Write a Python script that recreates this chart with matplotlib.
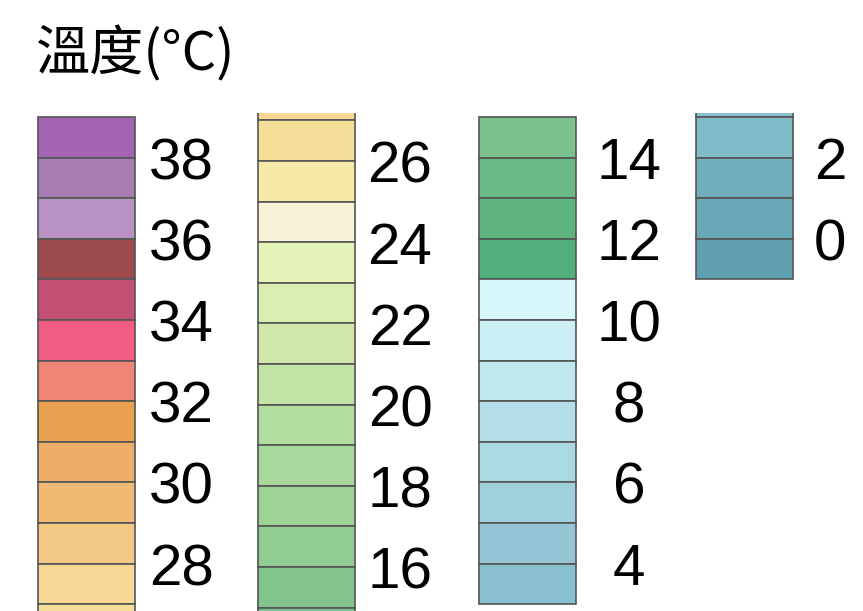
import matplotlib.pyplot as plt

# temperature bins, lower bound of each 1-degree box, from hot to cold
lows = list(range(38, -2, -1))
colors = [
    '#A464B4', '#A87EB2', '#B892C5', '#9C4A4E', '#C34F72', '#F05C86',
    '#F18575', '#E9A14F', '#EFAE68', '#F0BA75', '#F2C884', '#F6D794',
    '#F4DF98', '#F7EAA8', '#F8F3D8', '#E4F3B8', '#D9EDB0', '#D1E8AA',
    '#C3E4A6', '#B4DDA0', '#A9D89D', '#9ED396', '#90CB92', '#83C48E',
    '#7BC28E', '#6BBA85', '#5EB47F', '#52AE7A', '#D9F8FC', '#CBEFF5',
    '#BFE7EE', '#B4DFEA', '#ABD9E2', '#A0D0DC', '#96C6D5', '#88C0CF',
    '#80BBC8', '#72AFBD', '#67A7B6', '#5FA0B0',
]
title = '溫度(°C)'

# which bins each legend column holds (the legend wraps like a scrolled list)
col_bins = [(26, 38), (14, 27), (3, 14), (-1, 3)]
col_tops = [39.10, 27.18, 15.10, 3.10]   # temperature at the top edge of each column

W, H = 863, 611
box_left = [38, 258, 479, 696]
box_w = 97
label_cx = [181, 400, 629, 830]
px_per_deg = 40.6
top_px, bot_px = 113, 611
span = (bot_px - top_px) / px_per_deg

fig = plt.figure(figsize=(W / 100, H / 100), dpi=100)

for i in range(4):
    lo, hi = col_bins[i]
    sel = [k for k, t in enumerate(lows) if lo <= t <= hi]
    pad = 2
    ax = fig.add_axes([(box_left[i] - pad) / W, 1 - bot_px / H,
                       (box_w + 2 * pad) / W, (bot_px - top_px) / H])
    ax.bar([0.5] * len(sel), [1] * len(sel), width=1,
           bottom=[lows[k] for k in sel], color=[colors[k] for k in sel],
           edgecolor='#555555', linewidth=1.2)
    ax.set_xlim(-pad / box_w, 1 + pad / box_w)
    ax.set_ylim(col_tops[i] - span, col_tops[i])
    ax.axis('off')

    # even labels at box boundaries
    for k in sel:
        t = lows[k]
        if t % 2 == 0 and lo < t <= hi and t > col_tops[i] - span + 0.6:
            y = 1 - (top_px + (col_tops[i] - t) * px_per_deg + 21.5) / H
            fig.text(label_cx[i] / W, y, str(t), ha='center', va='baseline',
                     family='Liberation Sans', size=42)

fig.text(36 / W, 1 - 54 / H, title, ha='left', va='center', size=39,
         family=['Noto Sans CJK TC', 'DejaVu Sans'])

fig.savefig('out.png', dpi=100)
